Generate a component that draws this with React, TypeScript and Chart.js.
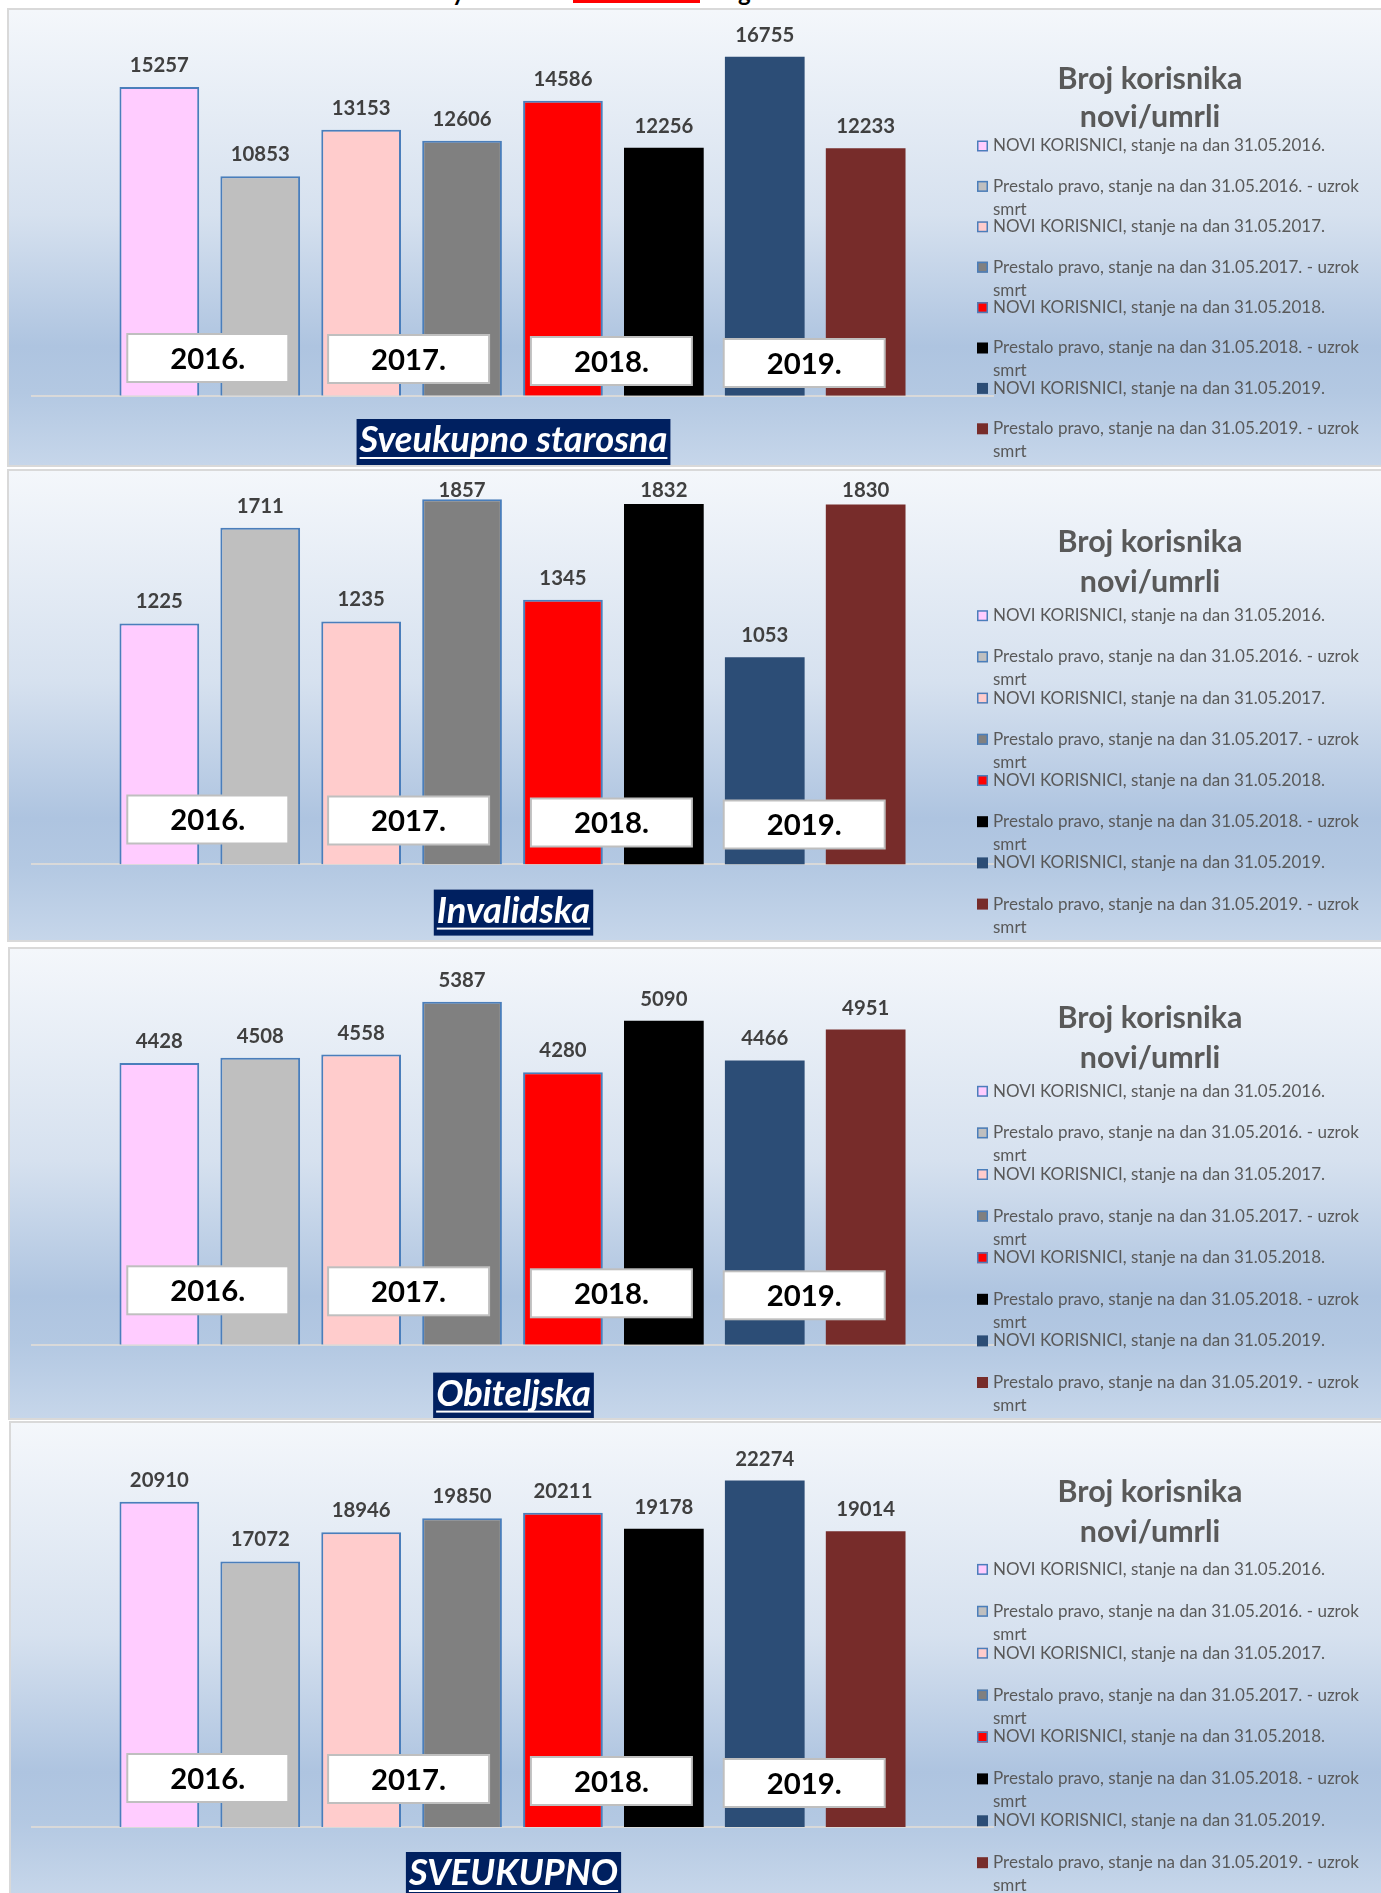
import React, { useEffect, useRef } from "react";
import { Chart, registerables } from "chart.js";

Chart.register(...registerables);

// ---------------- data ----------------
const SERIES_NAMES = [
  "NOVI KORISNICI, stanje na dan 31.05.2016.",
  "Prestalo pravo, stanje na dan 31.05.2016. - uzrok smrt",
  "NOVI KORISNICI, stanje na dan 31.05.2017.",
  "Prestalo pravo, stanje na dan 31.05.2017. - uzrok smrt",
  "NOVI KORISNICI, stanje na dan 31.05.2018.",
  "Prestalo pravo, stanje na dan 31.05.2018. - uzrok smrt",
  "NOVI KORISNICI, stanje na dan 31.05.2019.",
  "Prestalo pravo, stanje na dan 31.05.2019. - uzrok smrt",
];
const SERIES_COLORS = ["#ffccff", "#bfbfbf", "#ffcccc", "#808080", "#ff0000", "#000000", "#2c4d76", "#772c2a"];
const SERIES_OUTLINED = [true, true, true, true, true, false, false, false];
const YEAR_LABELS = ["2016.", "2017.", "2018.", "2019."];
const LEGEND_TITLE = ["Broj korisnika", "novi/umrli"];
const CATEGORY = [""];

const STAROSNA = [15257, 10853, 13153, 12606, 14586, 12256, 16755, 12233];
const INVALIDSKA = [1225, 1711, 1235, 1857, 1345, 1832, 1053, 1830];
const OBITELJSKA = [4428, 4508, 4558, 5387, 4280, 5090, 4466, 4951];
const SVEUKUPNO = [20910, 17072, 18946, 19850, 20211, 19178, 22274, 19014];

const PANEL_TITLES = ["Sveukupno starosna", "Invalidska", "Obiteljska", "SVEUKUPNO"];
const PANEL_VALUES = [STAROSNA, INVALIDSKA, OBITELJSKA, SVEUKUPNO];
const Y_MAX = [18000, 2000, 6000, 25000];

// ---------------- layout ----------------
const FONT = 'Lato, "DejaVu Sans", sans-serif';
const PAGE_W = 1381;
const BAR_BORDER = "#4a7ebb";
const TEXT_GRAY = "#595959";
const LABEL_GRAY = "#404040";

const LAYOUT = [
  { left: 9, top: 10, height: 455, padTop: 21.6, base: 385.7, yearTop: 324, titleTop: 409, lt: [79, 117], item0: 136, step: 40.4 },
  { left: 9, top: 471, height: 469, padTop: 0, base: 393.4, yearTop: 324.5, titleTop: 418.6, lt: [81, 121], item0: 144.7, step: 41.2 },
  { left: 10, top: 949, height: 469, padTop: 13.8, base: 395.8, yearTop: 317.3, titleTop: 423.6, lt: [78.6, 118.5], item0: 142.3, step: 41.6 },
  { left: 11, top: 1423, height: 471, padTop: 15.2, base: 404, yearTop: 331, titleTop: 429, lt: [79, 119], item0: 146.4, step: 41.9 },
];
const YEAR_DX = [-2, -3, -2, -11];
const YEAR_DY = [0, 1, 3, 5];
const YEAR_W = 161;
const YEAR_H = 48;

const GRADIENT =
  "linear-gradient(to bottom, #f4f7fb 0%, #d6e1ef 45%, #aec4e0 74%, #b3c8e2 84%, #c6d6ea 100%)";

function fitSize(ctx: CanvasRenderingContext2D, text: string, target: number, weight: string, style: string) {
  ctx.font = `${style} ${weight} 100px ${FONT}`;
  const w = ctx.measureText(text).width;
  return (100 * target) / w;
}

function wrap(ctx: CanvasRenderingContext2D, text: string, maxW: number): string[] {
  const words = text.split(" ");
  const lines: string[] = [];
  let cur = "";
  for (const w of words) {
    const t = cur ? cur + " " + w : w;
    if (ctx.measureText(t).width > maxW && cur) {
      lines.push(cur);
      cur = w;
    } else cur = t;
  }
  if (cur) lines.push(cur);
  return lines;
}

function makeDeco(idx: number) {
  const L = LAYOUT[idx];
  return {
    id: "deco" + idx,
    afterDraw(chart: any) {
      const ctx: CanvasRenderingContext2D = chart.ctx;
      const area = chart.chartArea;
      ctx.save();

      // data labels
      const labSize = fitSize(ctx, "15257", 59, "bold", "normal");
      ctx.font = `bold ${labSize}px ${FONT}`;
      ctx.fillStyle = LABEL_GRAY;
      ctx.textAlign = "center";
      ctx.textBaseline = "alphabetic";
      chart.data.datasets.forEach((ds: any, i: number) => {
        const el = chart.getDatasetMeta(i).data[0];
        const y = Math.max(el.y - 15, 26);
        ctx.fillText(String(ds.data[0]), el.x, y);
      });

      // year boxes
      const ySize = fitSize(ctx, "2016.", 75, "bold", "normal");
      YEAR_LABELS.forEach((lab, k) => {
        const a = chart.getDatasetMeta(2 * k).data[0];
        const b = chart.getDatasetMeta(2 * k + 1).data[0];
        const cx = (a.x + b.x) / 2 + YEAR_DX[k];
        const top = L.yearTop + YEAR_DY[k];
        ctx.fillStyle = "#ffffff";
        ctx.fillRect(cx - YEAR_W / 2, top, YEAR_W, YEAR_H);
        ctx.strokeStyle = "#bfbfbf";
        ctx.lineWidth = 2;
        ctx.strokeRect(cx - YEAR_W / 2, top, YEAR_W, YEAR_H);
        ctx.font = `bold ${ySize}px ${FONT}`;
        ctx.fillStyle = "#000000";
        ctx.textAlign = "center";
        const m = ctx.measureText(lab);
        const asc = m.actualBoundingBoxAscent;
        ctx.fillText(lab, cx, top + YEAR_H / 2 + asc / 2);
      });

      // panel title
      const tSize = fitSize(ctx, "Sveukupno starosna", 308, "bold", "italic");
      ctx.font = `italic bold ${tSize}px ${FONT}`;
      const title = PANEL_TITLES[idx];
      const tw = ctx.measureText(title).width;
      const tcx = (area.left + area.right) / 2 + 1;
      ctx.fillStyle = "#002060";
      ctx.fillRect(tcx - tw / 2 - 3, L.titleTop, tw + 6, 46);
      ctx.fillStyle = "#ffffff";
      ctx.textAlign = "center";
      ctx.fillText(title, tcx, L.titleTop + 33);
      ctx.fillRect(tcx - tw / 2, L.titleTop + 38, tw, 2);

      // legend title
      const lgSize = fitSize(ctx, LEGEND_TITLE[0], 185, "bold", "normal");
      ctx.font = `bold ${lgSize}px ${FONT}`;
      ctx.fillStyle = TEXT_GRAY;
      ctx.textAlign = "center";
      ctx.fillText(LEGEND_TITLE[0], 1150, L.lt[0]);
      ctx.fillText(LEGEND_TITLE[1], 1150, L.lt[1]);

      // legend items
      const liSize =
        (fitSize(ctx, SERIES_NAMES[0], 327, "normal", "normal") +
          fitSize(ctx, "Prestalo pravo, stanje na dan 31.05.2016. - uzrok", 372, "normal", "normal")) /
        2;
      ctx.font = `normal ${liSize}px ${FONT}`;
      ctx.textAlign = "left";
      ctx.textBaseline = "middle";
      chart.data.datasets.forEach((ds: any, i: number) => {
        const cy = L.item0 + i * L.step;
        ctx.fillStyle = ds.backgroundColor;
        ctx.fillRect(977, cy - 5.5, 11, 11);
        if (SERIES_OUTLINED[i]) {
          ctx.strokeStyle = BAR_BORDER;
          ctx.lineWidth = 1.5;
          ctx.strokeRect(977.75, cy - 4.75, 9.5, 9.5);
        }
        ctx.fillStyle = TEXT_GRAY;
        const lines = wrap(ctx, ds.label, 386);
        lines.forEach((ln, j) => ctx.fillText(ln, 993, cy + j * 23));
      });

      ctx.restore();
    },
  };
}

function Panel({ idx }: { idx: number }) {
  const ref = useRef<HTMLCanvasElement>(null);
  const L = LAYOUT[idx];
  useEffect(() => {
    const values = PANEL_VALUES[idx];
    const chart = new Chart(ref.current as HTMLCanvasElement, {
      type: "bar",
      data: {
        labels: CATEGORY,
        datasets: SERIES_NAMES.map((name, i) => ({
          label: name,
          data: [values[i]],
          backgroundColor: SERIES_COLORS[i],
          borderColor: SERIES_OUTLINED[i] ? BAR_BORDER : "rgba(0,0,0,0)",
          borderWidth: SERIES_OUTLINED[i] ? 2 : 0,
          categoryPercentage: 0.84,
          barPercentage: 0.79,
        })),
      },
      options: {
        responsive: false,
        animation: false,
        layout: { padding: { left: 32, right: PAGE_W - 993, top: L.padTop, bottom: L.height - L.base } },
        plugins: { legend: { display: false }, tooltip: { enabled: false } },
        scales: {
          x: {
            grid: { display: false, drawTicks: false },
            ticks: { display: false },
            border: { display: true, color: "#d9d9d9", width: 2 },
          },
          y: { display: false, min: 0, max: Y_MAX[idx] },
        },
      } as any,
      plugins: [makeDeco(idx)],
    });
    return () => chart.destroy();
  }, [idx]);
  return (
    <>
      <div
        style={{
          position: "absolute",
          left: L.left,
          top: L.top,
          width: PAGE_W - L.left + 10,
          height: L.height,
          background: GRADIENT,
          boxShadow: "0 0 0 2px #d9d9d9",
        }}
      />
      <canvas
        ref={ref}
        width={PAGE_W}
        height={L.height}
        style={{ position: "absolute", left: 0, top: L.top, width: PAGE_W, height: L.height }}
      />
    </>
  );
}

export default function App() {
  return (
    <div
      style={{
        position: "absolute",
        left: 0,
        top: 0,
        width: PAGE_W,
        height: 1893,
        overflow: "hidden",
        background: "#ffffff",
        fontFamily: FONT,
      }}
    >
      <div style={{ position: "absolute", left: 0, top: 0, width: PAGE_W, height: "7px", overflow: "hidden" }}>
        <span style={{ position: "absolute", left: 452, top: -20, fontSize: 24, lineHeight: "24px", fontWeight: 700, color: "#000" }}>y</span>
        <div
          style={{
            position: "absolute",
            left: 573,
            top: "-30px",
            width: "127px",
            height: "30px",
            borderBottom: "3px solid #ff0000",
            boxSizing: "content-box",
          }}
        />
        <span style={{ position: "absolute", left: 738, top: -20, fontSize: 24, lineHeight: "24px", fontWeight: 700, color: "#000" }}>g</span>
      </div>
      {LAYOUT.map((_, i) => (
        <Panel key={i} idx={i} />
      ))}
    </div>
  );
}
